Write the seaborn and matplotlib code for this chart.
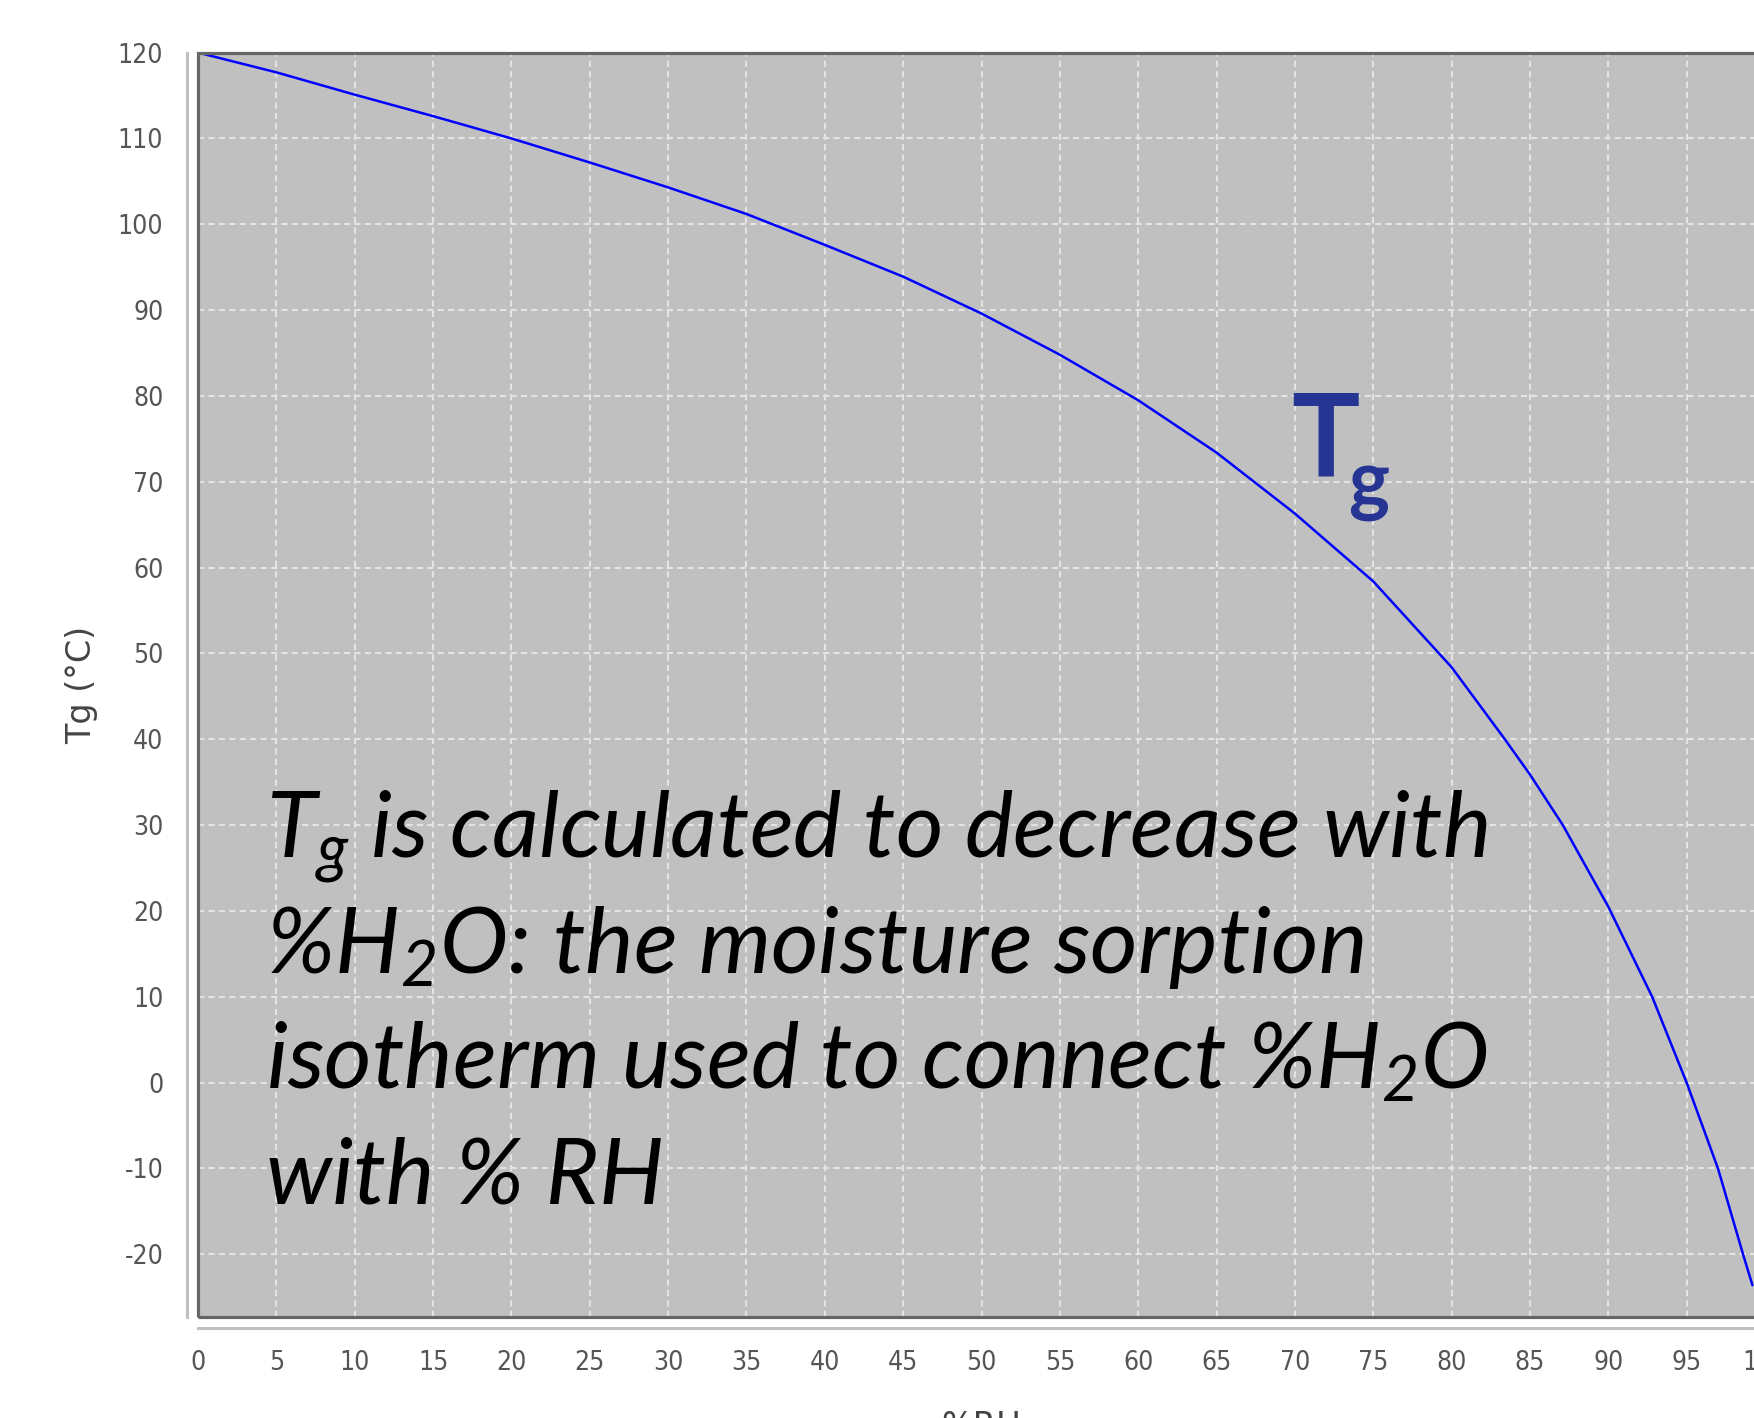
import matplotlib
matplotlib.use("Agg")
import matplotlib.pyplot as plt
from matplotlib.patches import Rectangle
import seaborn as sns

rh = [0, 5, 10, 15, 20, 25, 30, 35, 40, 45, 50, 55, 60, 65, 70, 75,
      80, 83.4, 85, 87.1, 90, 92.8, 95, 97.0, 98.6, 99.2]
tg = [120, 117.7, 115.1, 112.6, 110, 107.2, 104.3, 101.2, 97.6, 93.9,
      89.6, 84.8, 79.5, 73.4, 66.3, 58.4, 48.4, 40, 35.9, 30, 20.5, 10,
      0, -10, -20, -23.6]

x_ticks = list(range(0, 101, 5))
y_ticks = list(range(-20, 121, 10))

note_lines = [
    r"$T_g$ is calculated to decrease with",
    r"%H$_2$O: the moisture sorption",
    r"isotherm used to connect %H$_2$O",
    r"with % RH",
]

sns.set_style("white")
plt.rcParams["font.family"] = ["DejaVu Sans"]
plt.rcParams["axes.unicode_minus"] = False
plt.rcParams["mathtext.fontset"] = "custom"
plt.rcParams["mathtext.rm"] = "Lato:italic"
plt.rcParams["mathtext.it"] = "Lato:italic"

W, H = 1754, 1418
fig = plt.figure(figsize=(W / 100, H / 100), dpi=100)
ax = fig.add_axes([198 / W, 1 - 1317 / H, (1765 - 198) / W, (1317 - 52.6) / H])
ax.set_facecolor("#C0C0C0")

sns.lineplot(x=rh, y=tg, color="#0000FF", linewidth=1.8, ax=ax, zorder=3)

ax.set_xlim(0, 100)
ax.set_ylim(-27.3, 120)
ax.set_xticks(x_ticks)
ax.set_yticks(y_ticks)
ax.set_axisbelow(True)
ax.grid(True, color="#E4E4E4", linestyle=(0, (3, 2)), linewidth=1.5)

# dark frame round the plot area
ax.add_patch(Rectangle((0, 0), 1, 1, transform=ax.transAxes, fill=False,
                       edgecolor="#666666", linewidth=2.3, clip_on=False, zorder=5))

# separate light axis lines, offset outward
for side in ["top", "right"]:
    ax.spines[side].set_visible(False)
for side in ["left", "bottom"]:
    ax.spines[side].set_position(("outward", 8))
    ax.spines[side].set_color("#C0C0C0")
    ax.spines[side].set_linewidth(2.2)

ax.tick_params(axis="both", length=7, width=2, color="#C0C0C0",
               labelcolor="#555555", labelsize=19)
ax.tick_params(axis="y", pad=10)
ax.tick_params(axis="x", pad=9)
for lbl in ax.get_xticklabels() + ax.get_yticklabels():
    lbl.set_fontstretch("condensed")

ax.set_ylabel("Tg (°C)", fontsize=24, color="#444444", labelpad=14)
ax.set_xlabel("%RH", fontsize=24, color="#444444", labelpad=24)

# Tg label next to the curve
fig.text(1291 / W, 1 - 477 / H, "T", fontsize=82, fontweight="bold",
         family="Lato", color="#263593", va="baseline", ha="left")
fig.text(1348 / W, 1 - 506 / H, "g", fontsize=56, fontweight="bold",
         family="Lato", color="#263593", va="baseline", ha="left")

# annotation paragraph
for i, line in enumerate(note_lines):
    fig.text(266 / W, 1 - (858 + 115 * i) / H, line, fontsize=66,
             family="Lato", style="italic", color="black",
             va="baseline", ha="left")

fig.savefig("out.png", dpi=100)
